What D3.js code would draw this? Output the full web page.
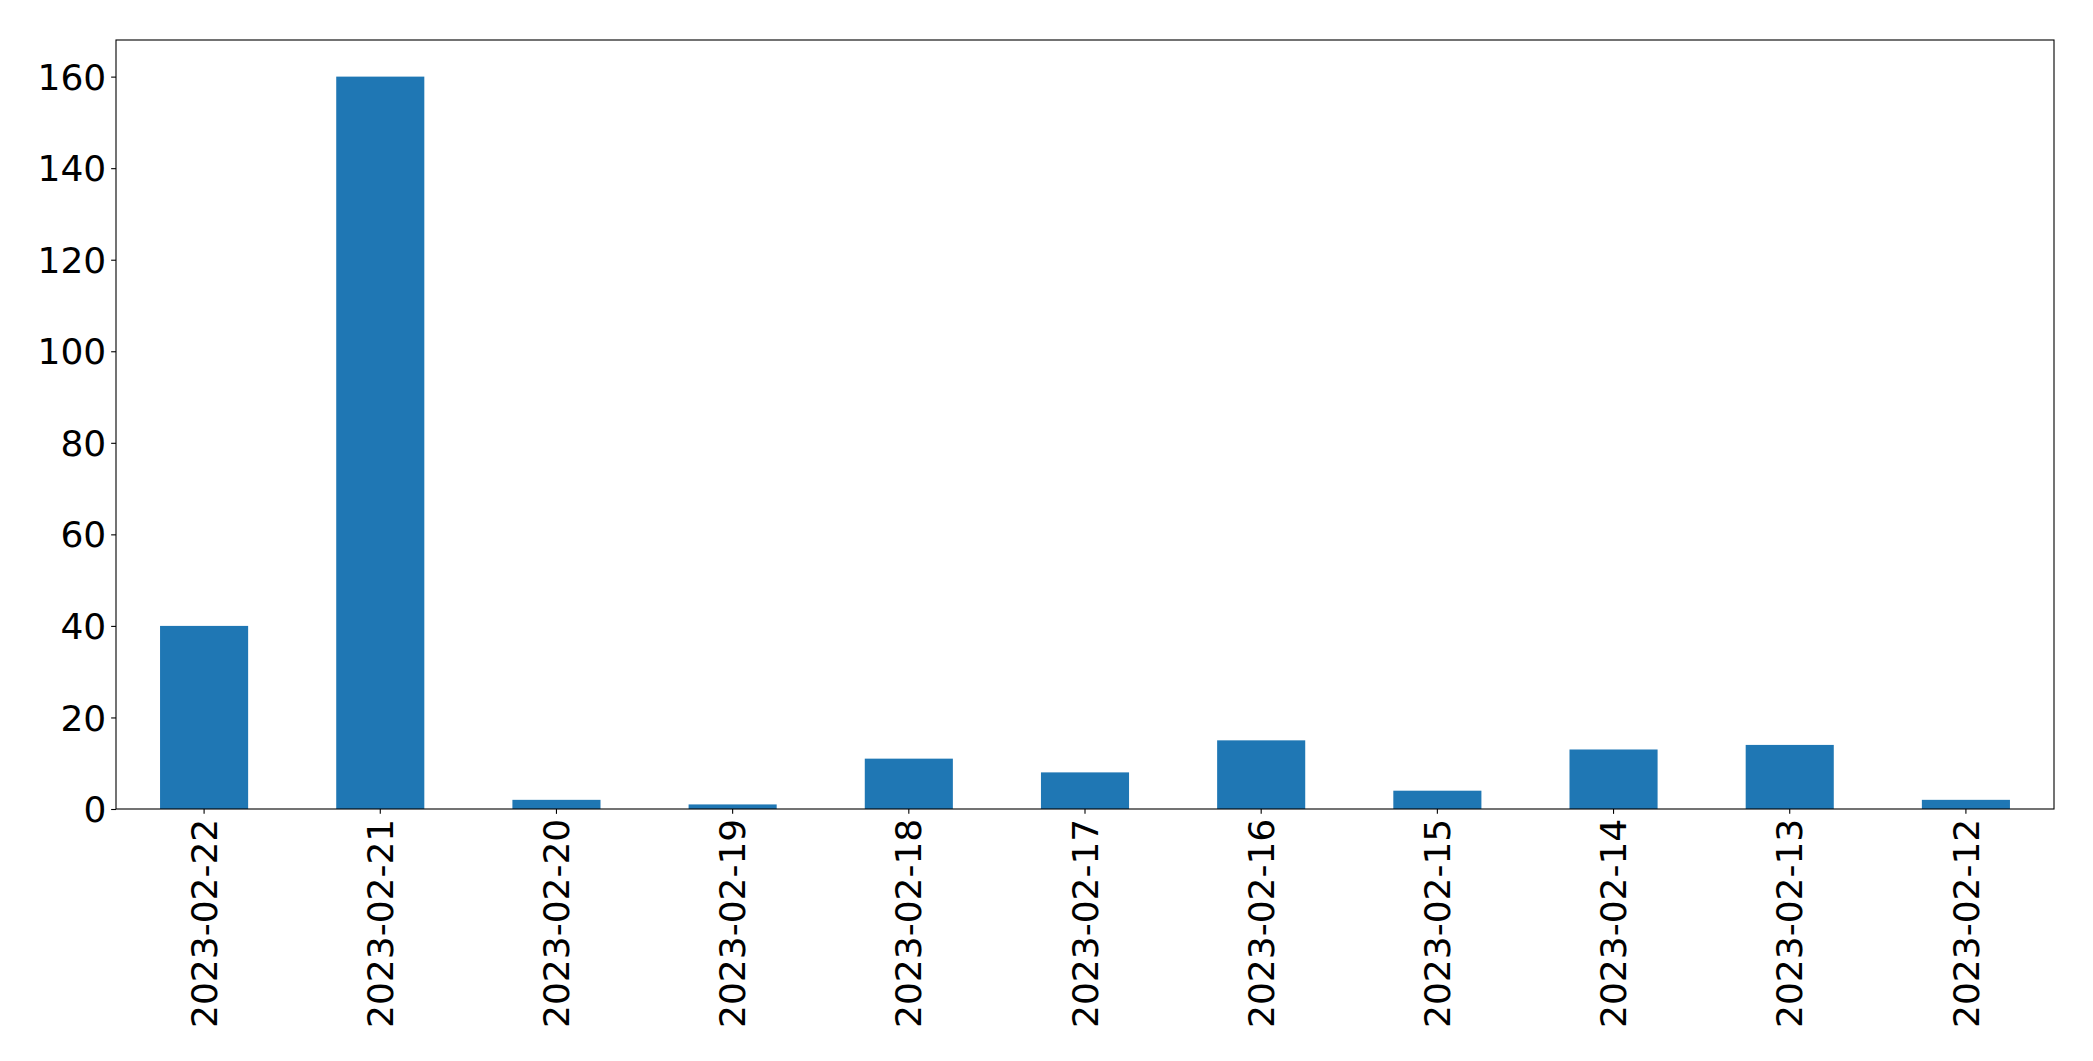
<!DOCTYPE html>
<html>
<head>
<meta charset="utf-8">
<script src="https://cdn.jsdelivr.net/npm/d3@7"></script>
<style>
  html, body { margin: 0; padding: 0; background: #fff; }
  svg { display: block; }
  text { font-family: "DejaVu Sans", sans-serif; fill: #000; }
</style>
</head>
<body>
<div id="chart"></div>
<script>
const categories = ["2023-02-22","2023-02-21","2023-02-20","2023-02-19","2023-02-18","2023-02-17","2023-02-16","2023-02-15","2023-02-14","2023-02-13","2023-02-12"];
const values = [40, 160, 2, 1, 11, 8, 15, 4, 13, 14, 2];
const yTicks = [0, 20, 40, 60, 80, 100, 120, 140, 160];

const W = 2093, H = 1061;
const margin = {left: 116, right: W - 2054, top: 40, bottom: H - 809};
const iw = W - margin.left - margin.right;
const ih = H - margin.top - margin.bottom;
const fontPx = 36;
const tickLen = 4.86, pad = 4.86;

const svg = d3.select("#chart").append("svg").attr("width", W).attr("height", H);
const g = svg.append("g").attr("transform", `translate(${margin.left},${margin.top})`);

const x = d3.scaleBand().domain(categories).range([0, iw]).paddingInner(0.5).paddingOuter(0.25);
const y = d3.scaleLinear().domain([0, d3.max(values) * 1.05]).range([ih, 0]);

g.selectAll("rect.bar").data(values).join("rect")
  .attr("class", "bar")
  .attr("x", (d, i) => x(categories[i]))
  .attr("width", x.bandwidth())
  .attr("y", d => y(d))
  .attr("height", d => y(0) - y(d))
  .attr("fill", "#1f77b4");

// y axis
const yAxis = d3.axisLeft(y).tickValues(yTicks).tickSize(tickLen).tickPadding(pad).tickFormat(d3.format("d"));
const ya = g.append("g").call(yAxis);
ya.select(".domain").remove();
ya.selectAll(".tick line").attr("stroke", "#000").attr("stroke-width", 1.1);
ya.selectAll(".tick text").style("font-size", fontPx + "px").attr("dy", "0.35em");

// x axis
const xAxis = d3.axisBottom(x).tickSize(tickLen).tickPadding(0);
const xa = g.append("g").attr("transform", `translate(0,${ih})`).call(xAxis);
xa.select(".domain").remove();
xa.selectAll(".tick line").attr("stroke", "#000").attr("stroke-width", 1.1);
xa.selectAll(".tick text")
  .style("font-size", fontPx + "px")
  .attr("transform", `translate(0,${tickLen + pad}) rotate(-90)`)
  .attr("x", 0).attr("y", 0).attr("dy", "0.35em")
  .attr("text-anchor", "end");

// frame
g.append("rect").attr("x", 0).attr("y", 0).attr("width", iw).attr("height", ih)
  .attr("fill", "none").attr("stroke", "#000").attr("stroke-width", 1.1);
</script>
</body>
</html>
